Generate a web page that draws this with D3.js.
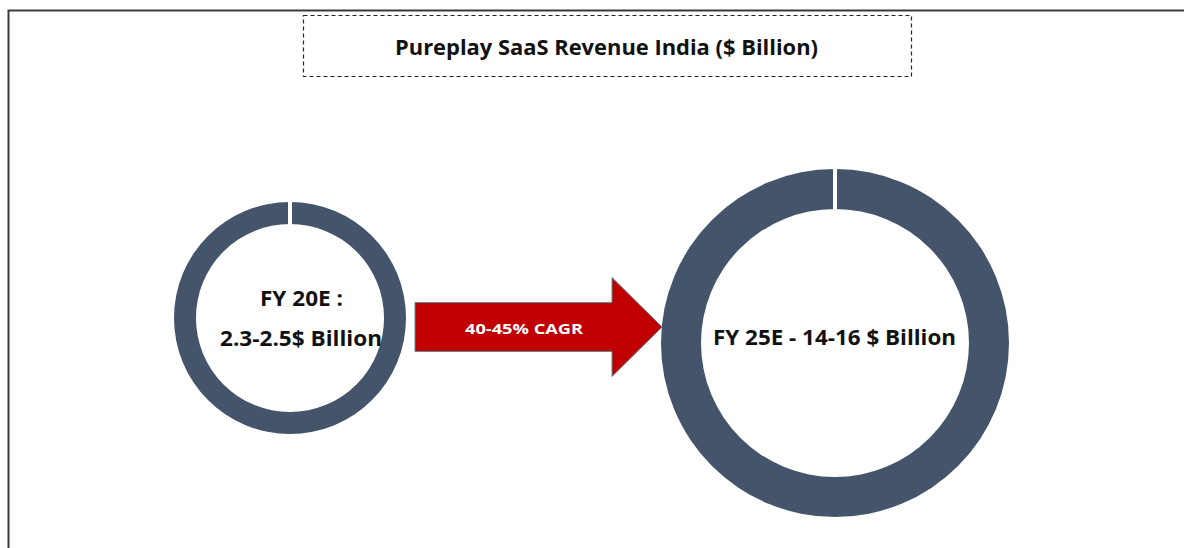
<!DOCTYPE html>
<html>
<head>
<meta charset="utf-8">
<script src="https://cdn.jsdelivr.net/npm/d3@7"></script>
<style>
  body { margin: 0; background: #fff; }
  svg { display: block; font-family: "Open Sans", "Noto Sans", sans-serif; }
</style>
</head>
<body>
<div id="graphArea"></div>
<script>
var title = "Pureplay SaaS Revenue India ($ Billion)";
var periods = ["FY 20E", "FY 25E"];
var lowValues = [2.3, 14];
var highValues = [2.5, 16];
var labelLines = [["FY 20E :", "2.3-2.5$ Billion"], ["FY 25E - 14-16 $ Billion"]];
var cagrLabel = "40-45% CAGR";

function visualize() {
    var w = 1184, h = 548;
    var ringColor = "#44546a";

    const svg = d3.select("#graphArea").append("svg").attr("width", w).attr("height", h);

    // frame lines (left + top only)
    svg.append("path")
        .attr("d", "M8.5," + h + " V10.5 H" + w)
        .attr("fill", "none")
        .attr("stroke", "#3a3a3a")
        .attr("stroke-width", 2);

    // title box
    svg.append("rect")
        .attr("x", 303.5).attr("y", 15.5)
        .attr("width", 608).attr("height", 61)
        .attr("fill", "none")
        .attr("stroke", "#222")
        .attr("stroke-width", 1.2)
        .attr("stroke-dasharray", "4,3");

    // text is a bit stretched in the original, so fit widths
    function label(txt, cx, y, size, width, fill) {
        return svg.append("text")
            .attr("x", cx - width / 2).attr("y", y)
            .attr("textLength", width)
            .attr("lengthAdjust", "spacingAndGlyphs")
            .style("font-size", size + "px")
            .style("font-weight", "bold")
            .attr("fill", fill || "#111")
            .text(txt);
    }

    label(title, 606.5, 54.5, 21, 423);

    var mid = periods.map((p, i) => (lowValues[i] + highValues[i]) / 2);

    var x = d3.scalePoint().domain(periods).range([290, 835]);
    var yc = d3.scalePoint().domain(periods).range([318, 343]);
    var r = d3.scaleLinear().domain([mid[0], mid[1]]).range([116, 174]);
    var thick = d3.scaleLinear().domain([mid[0], mid[1]]).range([22, 40]);

    var pie = d3.pie().sort(null);

    periods.forEach((p, i) => {
        var outer = r(mid[i]), inner = outer - thick(mid[i]);
        var g = svg.append("g").attr("transform", "translate(" + x(p) + "," + yc(p) + ")");
        var arc = d3.arc().innerRadius(inner).outerRadius(outer);
        g.selectAll("path")
            .data(pie([mid[i]]))
            .enter()
            .append("path")
            .attr("d", arc)
            .attr("fill", ringColor);
        // slice seam at 12 o'clock
        g.append("line")
            .attr("x1", 0).attr("x2", 0)
            .attr("y1", -inner + 1).attr("y2", -outer - 1)
            .attr("stroke", "#fff")
            .attr("stroke-width", 4);
    });

    // labels
    label(labelLines[0][0], 301.5, 305.5, 21, 83);
    label(labelLines[0][1], 301, 345.5, 21, 162);
    label(labelLines[1][0], 834.5, 344.5, 21, 243);

    // growth arrow
    var ax0 = 415, ax1 = 612, tip = 662, cy = 327;
    var shaftH = 49, headH = 99;
    var arrow = d3.path();
    arrow.moveTo(ax0, cy - shaftH / 2);
    arrow.lineTo(ax1, cy - shaftH / 2);
    arrow.lineTo(ax1, cy - headH / 2);
    arrow.lineTo(tip, cy);
    arrow.lineTo(ax1, cy + headH / 2);
    arrow.lineTo(ax1, cy + shaftH / 2);
    arrow.lineTo(ax0, cy + shaftH / 2);
    arrow.closePath();
    svg.append("path")
        .attr("d", arrow.toString())
        .attr("fill", "#c00000")
        .attr("stroke", "#5b8a96")
        .attr("stroke-width", 1);

    label(cagrLabel, 524, 334, 15, 118, "#fff");
}

document.addEventListener('DOMContentLoaded', () => {
    visualize();
});
</script>
</body>
</html>
